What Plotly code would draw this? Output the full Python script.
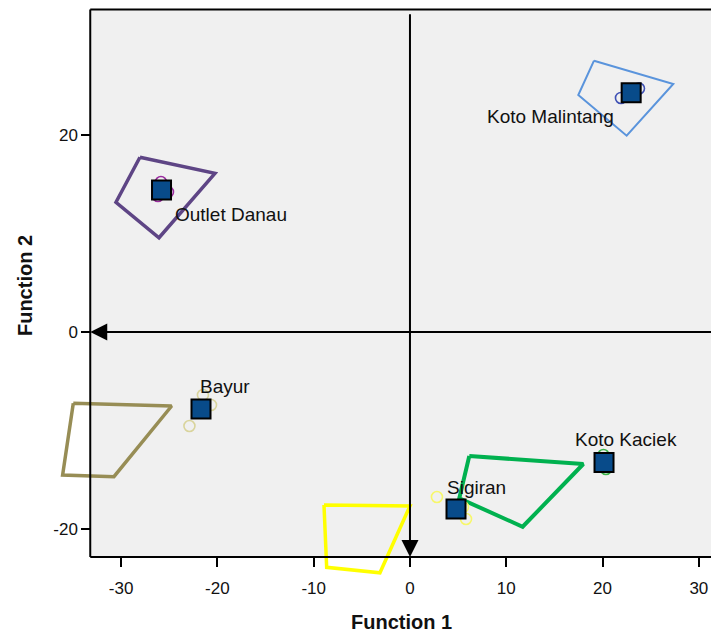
import plotly.graph_objects as go

# ---------------- data ----------------
groups = ["Outlet Danau", "Koto Malintang", "Bayur", "Koto Kaciek", "Sigiran"]

centroid_x = [-25.8, 22.97, -21.70, 20.15, 4.78]
centroid_y = [14.42, 24.28, -7.82, -13.25, -17.97]

cases_x = {
    "Outlet Danau": [-25.86, -26.17, -25.13],
    "Koto Malintang": [21.91, 23.78],
    "Bayur": [-21.50, -20.66, -22.90],
    "Koto Kaciek": [20.09, 20.35],
    "Sigiran": [2.80, 5.82, 5.50],
}
cases_y = {
    "Outlet Danau": [15.23, 13.81, 14.21],
    "Koto Malintang": [23.76, 24.72],
    "Bayur": [-6.40, -7.41, -9.54],
    "Koto Kaciek": [-12.49, -13.91],
    "Sigiran": [-16.75, -18.98, -17.77],
}

region_x = {
    "Outlet Danau": [-28.04, -20.25, -26.06, -30.53],
    "Koto Malintang": [19.11, 27.34, 22.50, 17.48],
    "Bayur": [-34.96, -24.75, -30.74, -36.07],
    "Koto Kaciek": [6.16, 18.00, 11.70, 5.12],
    "Sigiran": [-8.93, 0.00, -3.12, -8.65],
}
region_y = {
    "Outlet Danau": [17.74, 16.11, 9.57, 13.17],
    "Koto Malintang": [27.54, 25.18, 19.93, 24.06],
    "Bayur": [-7.24, -7.51, -14.69, -14.52],
    "Koto Kaciek": [-12.59, -13.40, -19.77, -16.88],
    "Sigiran": [-17.56, -17.66, -24.44, -23.89],
}

x_ticks = [-30, -20, -10, 0, 10, 20, 30]
x_tick_labels = ["-30", "-20", "-10", "0", "10", "20", "30"]
y_ticks = [-20, 0, 20]
y_tick_labels = ["-20", "0", "20"]

# ---------------- styles ----------------
region_color = {
    "Outlet Danau": "#5E4585",
    "Koto Malintang": "#5A94DC",
    "Bayur": "#978D55",
    "Koto Kaciek": "#00B14F",
    "Sigiran": "#FFFF00",
}
region_width = {
    "Outlet Danau": 3.5,
    "Koto Malintang": 2,
    "Bayur": 3.5,
    "Koto Kaciek": 4,
    "Sigiran": 3.5,
}
case_color = {
    "Outlet Danau": "#9A2C9E",
    "Koto Malintang": "#3F51B5",
    "Bayur": "#D9D49C",
    "Koto Kaciek": "#3CB44B",
    "Sigiran": "#F7F76B",
}
label_offset = {  # (xanchor, xshift, yshift) in px
    "Outlet Danau": ("left", 11, -25),
    "Koto Malintang": ("right", -15, -24),
    "Bayur": ("left", -3, 23),
    "Koto Kaciek": ("left", -31, 23),
    "Sigiran": ("left", -11, 22),
}

FONT = "Arial, Liberation Sans, sans-serif"
XR = [-37.38, 32.09]
YR = [-25.58, 32.89]
FX0 = -33.2      # left frame edge
FY0 = -22.85     # bottom frame edge
FY1 = 32.74      # top frame edge

fig = go.Figure()

for g in groups:
    fig.add_trace(go.Scatter(
        x=region_x[g] + region_x[g][:1], y=region_y[g] + region_y[g][:1],
        mode="lines", line=dict(color=region_color[g], width=region_width[g]),
        hoverinfo="skip", showlegend=False))

for g in groups:
    fig.add_trace(go.Scatter(
        x=cases_x[g], y=cases_y[g], mode="markers",
        marker=dict(symbol="circle-open", size=11, color=case_color[g],
                    line=dict(width=1.6, color=case_color[g])),
        showlegend=False))

fig.add_trace(go.Scatter(
    x=centroid_x, y=centroid_y, mode="markers",
    marker=dict(symbol="square", size=19, color="#084B8A",
                line=dict(width=2, color="black")),
    showlegend=False))

# background + frame
fig.add_shape(type="rect", xref="x", yref="y", x0=FX0, x1=XR[1], y0=FY0, y1=FY1,
              fillcolor="#F0F0F0", line=dict(width=0), layer="below")
for (x0, y0, x1, y1) in [(FX0, FY0, FX0, FY1), (FX0, FY1, XR[1], FY1), (FX0, FY0, XR[1], FY0)]:
    fig.add_shape(type="line", xref="x", yref="y", x0=x0, y0=y0, x1=x1, y1=y1,
                  line=dict(color="black", width=2), layer="above")

# axis arrows
fig.add_annotation(x=FX0, y=0, ax=XR[1], ay=0, xref="x", yref="y", axref="x", ayref="y",
                   text="", showarrow=True, arrowhead=2, arrowsize=1.7, arrowwidth=2,
                   arrowcolor="black")
fig.add_annotation(x=0, y=FY0, ax=0, ay=32.4, xref="x", yref="y", axref="x", ayref="y",
                   text="", showarrow=True, arrowhead=2, arrowsize=1.7, arrowwidth=2,
                   arrowcolor="black")

# group labels
for g, cx, cy in zip(groups, centroid_x, centroid_y):
    xa, xs, ys = label_offset[g]
    fig.add_annotation(x=cx, y=cy, xref="x", yref="y", text=g, showarrow=False,
                       xanchor=xa, yanchor="middle", xshift=xs, yshift=ys,
                       font=dict(family=FONT, size=19, color="#111111"))

# axis titles
fig.add_annotation(x=0.526, y=-0.066, xref="paper", yref="paper", text="<b>Function 1</b>",
                   xanchor="center", yanchor="middle",
                   showarrow=False, font=dict(family=FONT, size=20, color="#111111"))
fig.add_annotation(x=-0.0374, y=0.519, xref="paper", yref="paper", text="<b>Function 2</b>",
                   xanchor="center", yanchor="middle",
                   showarrow=False, textangle=-90,
                   font=dict(family=FONT, size=20, color="#111111"))

fig.update_layout(
    width=711, height=626,
    margin=dict(l=42, r=0, t=0, b=50),
    paper_bgcolor="white", plot_bgcolor="white",
    showlegend=False,
    xaxis=dict(range=XR, anchor="free",
               position=(FY0 - YR[0]) / (YR[1] - YR[0]),
               tickvals=x_ticks, ticktext=x_tick_labels,
               ticks="outside", ticklen=9, tickwidth=2, tickcolor="black",
               ticklabelstandoff=6,
               showgrid=False, zeroline=False, showline=False,
               tickfont=dict(family=FONT, size=17, color="#111111")),
    yaxis=dict(range=YR, anchor="free",
               position=(FX0 - XR[0]) / (XR[1] - XR[0]),
               tickvals=y_ticks, ticktext=y_tick_labels,
               ticks="outside", ticklen=9, tickwidth=2, tickcolor="black",
               showgrid=False, zeroline=False, showline=False,
               tickfont=dict(family=FONT, size=17, color="#111111")),
)

fig.write_html("out.html")
